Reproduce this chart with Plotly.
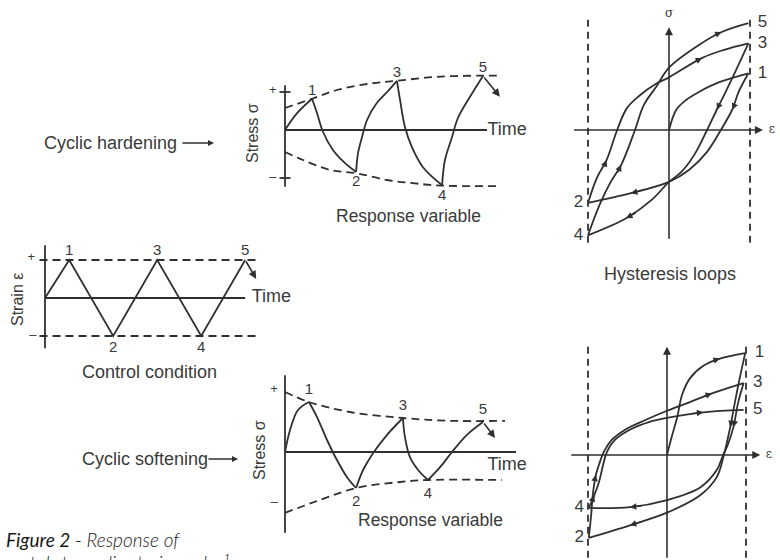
import plotly.graph_objects as go

W, H = 780, 560
INK = "#303030"
TXT = "#3a3a3a"
SANS = "Liberation Sans, Arial, sans-serif"

# ---------------- data ----------------
# Control condition: strain history (time in quarter-cycle units, strain amplitude = 1)
ctrl_time = [0.0, 1.1, 3.1, 5.1, 7.1, 9.1]
ctrl_strain = [0.0, 1.0, -1.0, 1.0, -1.0, 1.0]
ctrl_tail = [9.6, 0.5]
ctrl_limits = [1.0, -1.0]

# Cyclic hardening: stress response versus time
hard_time = [0.0, 0.55, 1.23, 1.45, 1.73, 2.18, 2.73, 3.23, 3.32, 3.5, 3.73, 4.18, 4.64, 5.09,
             5.23, 5.45, 5.77, 6.27, 7.14, 7.27, 7.59, 7.86, 8.41, 9.0]
hard_stress = [0.0, 0.42, 0.78, 0.43, -0.05, -0.5, -0.83, -1.05, -0.58, -0.18, 0.25, 0.68, 0.95, 1.23,
               0.75, 0.08, -0.43, -0.93, -1.38, -0.75, -0.18, 0.3, 0.83, 1.35]
hard_tail = [9.77, 0.83]
hard_env_up_time = [0.0, 1.23, 2.36, 3.73, 5.09, 6.91, 9.0, 9.77]
hard_env_up = [0.55, 0.78, 1.0, 1.15, 1.23, 1.33, 1.36, 1.36]
hard_env_lo_time = [0.0, 0.82, 2.05, 3.23, 4.64, 5.82, 7.14, 9.77]
hard_env_lo = [-0.55, -0.75, -1.0, -1.08, -1.25, -1.33, -1.39, -1.4]

# Cyclic softening: stress response versus time
soft_time = [0.0, 0.23, 0.59, 1.09, 1.45, 1.91, 2.36, 2.82, 3.23, 3.55, 4.0, 4.64, 5.36,
             5.45, 5.68, 6.05, 6.5, 7.05, 7.59, 8.27, 9.0]
soft_stress = [0.0, 0.55, 1.05, 1.25, 0.88, 0.3, -0.2, -0.63, -0.9, -0.45, -0.03, 0.43, 0.85,
               0.38, -0.13, -0.45, -0.7, -0.38, 0.0, 0.43, 0.75]
soft_tail = [9.55, 0.35]
soft_env_up_time = [0.0, 1.09, 2.95, 5.36, 7.5, 10.0]
soft_env_up = [1.5, 1.25, 1.0, 0.85, 0.78, 0.78]
soft_env_lo_time = [0.0, 1.59, 3.23, 5.23, 6.5, 9.86]
soft_env_lo = [-1.52, -1.2, -0.9, -0.75, -0.7, -0.7]

# Hysteresis loops, hardening material (strain, stress), reversals 1..5
hloop_strain = [0.0, 0.09, 0.21, 0.37, 0.62, 0.98,
                0.86, 0.78, 0.64, 0.47, 0.25, 0.0, -0.47, -1.0,
                -0.89, -0.77, -0.64, -0.52, -0.37, -0.16, 0.0, 0.41, 0.68, 0.98,
                0.80, 0.68, 0.59, 0.47, 0.31, 0.15, 0.0, -0.21, -0.53, -1.0,
                -0.86, -0.72, -0.59, -0.42, -0.31, -0.16, 0.0, 0.37, 0.65, 0.98]
hloop_stress = [0.0, 0.25, 0.37, 0.47, 0.59, 0.70,
                0.47, 0.25, 0.0, -0.27, -0.49, -0.64, -0.78, -0.90,
                -0.59, -0.37, 0.0, 0.27, 0.42, 0.57, 0.65, 0.89, 0.99, 1.07,
                0.68, 0.43, 0.25, 0.0, -0.31, -0.52, -0.64, -0.86, -1.09, -1.30,
                -0.93, -0.64, -0.43, 0.0, 0.31, 0.53, 0.77, 1.05, 1.21, 1.32]
hloop_arrows = [7, 12, 15, 21, 26, 32, 36, 42]

# Hysteresis loops, softening material (strain, stress), reversals 1..5
sloop_strain = [0.0, 0.06, 0.13, 0.19, 0.29, 0.46, 0.67, 0.99,
                0.92, 0.86, 0.80, 0.72, 0.63, 0.42, 0.0, -0.47, -0.99,
                -0.96, -0.94, -0.90, -0.85, -0.80, -0.70, -0.53, -0.28, 0.0, 0.29, 0.57, 0.97,
                0.90, 0.84, 0.77, 0.71, 0.63, 0.42, 0.0, -0.47, -0.99,
                -0.92, -0.86, -0.81, -0.76, -0.66, -0.47, -0.22, 0.0, 0.46, 0.97]
sloop_stress = [0.0, 0.23, 0.48, 0.76, 0.97, 1.13, 1.22, 1.29,
                0.97, 0.67, 0.35, 0.0, -0.28, -0.51, -0.73, -0.89, -1.05,
                -0.76, -0.51, -0.25, -0.09, 0.04, 0.19, 0.32, 0.44, 0.56, 0.67, 0.78, 0.91,
                0.66, 0.35, 0.13, 0.0, -0.19, -0.41, -0.57, -0.66, -0.67,
                -0.51, -0.34, -0.13, 0.04, 0.19, 0.32, 0.42, 0.47, 0.54, 0.57]
sloop_arrows = [6, 10, 15, 19, 27, 30, 36, 38, 46]

reversal_labels = ["1", "2", "3", "4", "5"]

# ---------------- panel geometry (pixel origin, pixels per unit, ranges) ----------------
panels = {
    "hard": dict(origin=(285, 130), scale=(22, 40), xr=(-1.5, 11.0), yr=(-1.7, 2.0)),
    "ctrl": dict(origin=(45, 298), scale=(22, 38), xr=(-1.2, 10.0), yr=(-1.5, 1.6)),
    "soft": dict(origin=(285, 452), scale=(22, 40), xr=(-1.5, 11.0), yr=(-2.1, 2.0)),
    "hloop": dict(origin=(669, 130), scale=(81, 81), xr=(-1.3, 1.3), yr=(-1.55, 1.55)),
    "sloop": dict(origin=(667, 455), scale=(79, 79), xr=(-1.3, 1.3), yr=(-1.32, 1.5)),
}


def clamp(v):
    return min(1.0, max(0.0, v))


fig = go.Figure()
axes = {}
layout_axes = {}
for k, (name, p) in enumerate(panels.items(), start=1):
    ox, oy = p["origin"]
    sx, sy = p["scale"]
    xid = "x" if k == 1 else f"x{k}"
    yid = "y" if k == 1 else f"y{k}"
    axes[name] = (xid, yid)
    xd = [clamp((ox + p["xr"][0] * sx) / W), clamp((ox + p["xr"][1] * sx) / W)]
    yd = [clamp(1 - (oy - p["yr"][0] * sy) / H), clamp(1 - (oy - p["yr"][1] * sy) / H)]
    layout_axes["xaxis" if k == 1 else f"xaxis{k}"] = dict(
        domain=xd, range=list(p["xr"]), visible=False, fixedrange=True, anchor=yid)
    layout_axes["yaxis" if k == 1 else f"yaxis{k}"] = dict(
        domain=yd, range=list(p["yr"]), visible=False, fixedrange=True, anchor=xid)


def line(ax, xs, ys, dash=None, shape="linear", width=1.8):
    fig.add_trace(go.Scatter(
        x=xs, y=ys, mode="lines", xaxis=axes[ax][0], yaxis=axes[ax][1],
        line=dict(color=INK, width=width, dash=dash, shape=shape, smoothing=1.0),
        hoverinfo="skip", showlegend=False))


def text(ax, xs, ys, labels, pos, size=15, family=SANS, color=TXT):
    fig.add_trace(go.Scatter(
        x=xs, y=ys, mode="text", text=labels, textposition=pos,
        textfont=dict(family=family, size=size, color=color),
        xaxis=axes[ax][0], yaxis=axes[ax][1], cliponaxis=False,
        hoverinfo="skip", showlegend=False))


def arrow(ax, head, tail, size=1.0, width=1.6, style=2):
    fig.add_annotation(
        x=head[0], y=head[1], ax=tail[0], ay=tail[1],
        xref=axes[ax][0], yref=axes[ax][1], axref=axes[ax][0], ayref=axes[ax][1],
        showarrow=True, arrowhead=style, arrowsize=size, arrowwidth=width,
        arrowcolor=INK, text="", standoff=0)


def turning_points(v):
    return [i for i in range(1, len(v) - 1) if (v[i] - v[i - 1]) * (v[i + 1] - v[i]) < 0]


def draw_branches(ax, xs, ys, key):
    cuts = [0] + turning_points(key) + [len(xs) - 1]
    for a, b in zip(cuts[:-1], cuts[1:]):
        line(ax, xs[a:b + 1], ys[a:b + 1], shape="spline")
    return cuts[1:]


DASH = "8px,5px"

# ---------------- response panels ----------------
# extra label clearance above peaks / below troughs, in stress units
for name, t, s, tail, eu_t, eu, el_t, el, gap_up, gap_dn in [
    ("hard", hard_time, hard_stress, hard_tail, hard_env_up_time, hard_env_up,
     hard_env_lo_time, hard_env_lo, 0.0, 0.08),
    ("soft", soft_time, soft_stress, soft_tail, soft_env_up_time, soft_env_up,
     soft_env_lo_time, soft_env_lo, 0.1, 0.18),
]:
    line(name, eu_t, eu, dash=DASH, shape="spline")
    line(name, el_t, el, dash=DASH, shape="spline")
    peaks = draw_branches(name, t, s, s)
    arrow(name, tail, (t[-1], s[-1]), size=1.0, width=1.6)
    up = [i for i in peaks if s[i] > 0]
    dn = [i for i in peaks if s[i] < 0]
    text(name, [t[i] for i in up], [s[i] + gap_up for i in up],
         [reversal_labels[peaks.index(i)] for i in up], "top center", 15)
    text(name, [t[i] for i in dn], [s[i] - gap_dn for i in dn],
         [reversal_labels[peaks.index(i)] for i in dn], "bottom center", 15)

# hardening axes and +/- ticks
line("hard", [0, 0], [1.12, -1.42])
line("hard", [0, 9.18], [0, 0])
for lvl in (0.95, -1.2):
    line("hard", [-0.25, 0.25], [lvl, lvl])
text("hard", [-0.55, -0.55], [0.98, -1.2], ["+", "\u2013"], "middle center", 13)
text("hard", [9.2], [0], ["Time"], "middle right", 18)

# softening axes
line("soft", [0, 0], [1.92, -2.02])
line("soft", [0, 10.5], [0, 0])
text("soft", [-0.5, -0.5], [1.55, -1.28], ["+", "\u2013"], "middle center", 13)
text("soft", [10.1], [-0.33], ["Time"], "middle center", 18)

# ---------------- control condition ----------------
for lvl in ctrl_limits:
    line("ctrl", [-0.25, 9.64], [lvl, lvl], dash=DASH)
line("ctrl", [0, 0], [1.39, -1.32])
line("ctrl", [0, 9.1], [0, 0])
line("ctrl", ctrl_time, ctrl_strain)
arrow("ctrl", ctrl_tail, (ctrl_time[-1], ctrl_strain[-1]), size=1.0, width=1.6)
cp = turning_points(ctrl_strain) + [len(ctrl_time) - 1]
text("ctrl", [ctrl_time[i] for i in cp if ctrl_strain[i] > 0],
     [ctrl_strain[i] + 0.02 for i in cp if ctrl_strain[i] > 0],
     [reversal_labels[cp.index(i)] for i in cp if ctrl_strain[i] > 0], "top center", 15)
text("ctrl", [ctrl_time[i] for i in cp if ctrl_strain[i] < 0],
     [ctrl_strain[i] - 0.12 for i in cp if ctrl_strain[i] < 0],
     [reversal_labels[cp.index(i)] for i in cp if ctrl_strain[i] < 0], "bottom center", 15)
text("ctrl", [-0.62, -0.55], [1.07, -1.0], ["+", "\u2013"], "middle center", 13)
text("ctrl", [9.4], [0], ["Time"], "middle right", 18)

# ---------------- hysteresis loops ----------------
for name, e, sg, arr, vtop, vbot, hl, hr, dtop, dbot in [
    ("hloop", hloop_strain, hloop_stress, hloop_arrows, 1.27, -1.36, -1.19, 1.16, 1.36, -1.42),
    ("sloop", sloop_strain, sloop_stress, sloop_arrows, 1.37, -1.32, -1.23, 1.18, 1.37, -1.32),
]:
    for lvl in (-1.0, 1.0):
        line(name, [lvl, lvl], [dtop, dbot], dash="7px,5px")
    arrow(name, (0, vtop), (0, vbot), size=1.0, width=1.6)
    arrow(name, (hr, 0), (hl, 0), size=1.0, width=1.6)
    text(name, [0], [vtop + 0.16], ["\u03c3"], "middle center", 12, family="DejaVu Serif")
    text(name, [hr + 0.11], [0], ["\u03b5"], "middle center", 12, family="DejaVu Serif")
    rev = draw_branches(name, e, sg, e)
    for i in arr:
        de = (e[i + 1] - e[i - 1]) / 2
        ds = (sg[i + 1] - sg[i - 1]) / 2
        arrow(name, (e[i], sg[i]), (e[i] - 0.35 * de, sg[i] - 0.35 * ds), size=1.0, width=1.3)
    rt = [i for i in rev if e[i] > 0]
    lt = [i for i in rev if e[i] < 0]
    text(name, [e[i] for i in rt], [sg[i] for i in rt],
         ["  " + reversal_labels[rev.index(i)] for i in rt], "middle right", 17)
    text(name, [e[i] for i in lt], [sg[i] for i in lt],
         [reversal_labels[rev.index(i)] + " " for i in lt], "middle left", 17)


# ---------------- labels (paper positions) ----------------
def label(x, y, s, size=18, xanchor="center", angle=0, family=SANS, color=TXT):
    fig.add_annotation(x=x / W, y=1 - y / H, xref="paper", yref="paper", text=s,
                       showarrow=False, xanchor=xanchor, yanchor="middle", textangle=angle,
                       font=dict(family=family, size=size, color=color))


def pointer(x0, x1, y):
    fig.add_annotation(x=x1 / W, y=1 - y / H, xref="paper", yref="paper", text="",
                       ax=x0 - x1, ay=0, showarrow=True, arrowhead=2, arrowsize=0.8,
                       arrowwidth=1.5, arrowcolor=INK, standoff=0)


label(42, 143, "Cyclic hardening", xanchor="left")
pointer(181, 214, 143)
label(80, 459, "Cyclic softening", xanchor="left")
pointer(207, 238, 459)
label(252, 133, "Stress \u03c3", size=16, angle=-90)
label(259, 450, "Stress \u03c3", size=16, angle=-90)
label(17, 300, "Strain \u03b5", size=16, angle=-90)
label(408, 216, "Response variable", size=17.5)
label(430, 520, "Response variable", size=17.5)
label(149, 372, "Control condition", size=18)
label(670, 274, "Hysteresis loops", size=18)

fig.add_annotation(x=4 / W, y=1 - 539 / H, xref="paper", yref="paper", showarrow=False,
                   xanchor="left", yanchor="middle",
                   text="<i>Figure 2</i><i><span style='font-weight:300'> - Response of</span></i>",
                   font=dict(family="Lato, sans-serif", size=19, color="#1a1a1a"))
fig.add_annotation(x=4 / W, y=1 - 562 / H, xref="paper", yref="paper", showarrow=False,
                   xanchor="left", yanchor="middle",
                   text="<i><span style='font-weight:300'>metals to cyclic strain cycles\u00b9</span></i>",
                   font=dict(family="Lato, sans-serif", size=19, color="#1a1a1a"))

fig.update_layout(width=W, height=H, margin=dict(l=0, r=0, t=0, b=0),
                  paper_bgcolor="white", plot_bgcolor="rgba(0,0,0,0)",
                  showlegend=False, **layout_axes)

fig.write_html("out.html")
